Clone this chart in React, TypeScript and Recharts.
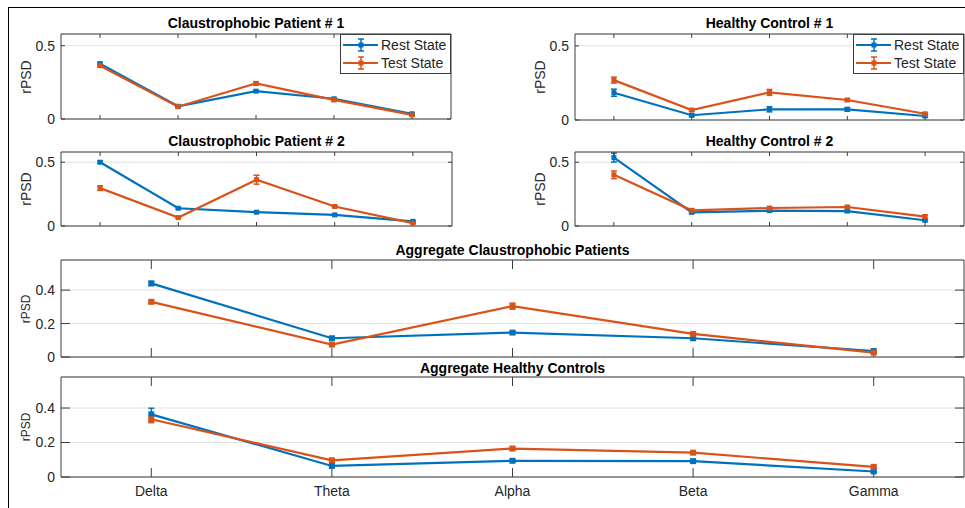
import React from 'react';
import { LineChart, Line, XAxis, YAxis, CartesianGrid, ErrorBar } from 'recharts';

const BLUE = '#0072BD';
const ORANGE = '#D95319';
const AXIS = '#3c3c3c';
const TEXT = '#262626';
const FONT = '"Liberation Sans", Arial, Helvetica, sans-serif';

const BANDS = ['Delta', 'Theta', 'Alpha', 'Beta', 'Gamma'];
const BAND_POS = [1, 2, 3, 4, 5];
const Y_TICKS_SMALL = [0, 0.5];
const Y_TICKS_AGG = [0, 0.2, 0.4];
const Y_MAX = 0.58;

// Claustrophobic Patient # 1
const cp1Rest = [0.378, 0.087, 0.19, 0.138, 0.036];
const cp1RestErr = [0.008, 0.005, 0.007, 0.006, 0.005];
const cp1Test = [0.364, 0.084, 0.243, 0.13, 0.028];
const cp1TestErr = [0.008, 0.006, 0.011, 0.006, 0.005];

// Healthy Control # 1
const hc1Rest = [0.184, 0.032, 0.072, 0.072, 0.027];
const hc1RestErr = [0.024, 0.01, 0.017, 0.012, 0.008];
const hc1Test = [0.269, 0.067, 0.186, 0.135, 0.042];
const hc1TestErr = [0.02, 0.008, 0.02, 0.008, 0.006];

// Claustrophobic Patient # 2
const cp2Rest = [0.5, 0.139, 0.108, 0.087, 0.037];
const cp2RestErr = [0.01, 0.006, 0.006, 0.006, 0.006];
const cp2Test = [0.297, 0.066, 0.363, 0.153, 0.022];
const cp2TestErr = [0.018, 0.006, 0.035, 0.008, 0.005];

// Healthy Control # 2
const hc2Rest = [0.536, 0.107, 0.12, 0.117, 0.045];
const hc2RestErr = [0.035, 0.008, 0.008, 0.008, 0.01];
const hc2Test = [0.401, 0.123, 0.141, 0.149, 0.073];
const hc2TestErr = [0.03, 0.008, 0.008, 0.008, 0.015];

// Aggregate Claustrophobic Patients
const aggCpRest = [0.44, 0.112, 0.146, 0.112, 0.036];
const aggCpRestErr = [0.012, 0.005, 0.007, 0.006, 0.004];
const aggCpTest = [0.33, 0.074, 0.304, 0.138, 0.026];
const aggCpTestErr = [0.01, 0.005, 0.018, 0.006, 0.004];

// Aggregate Healthy Controls
const aggHcRest = [0.363, 0.064, 0.094, 0.092, 0.032];
const aggHcRestErr = [0.036, 0.007, 0.007, 0.006, 0.005];
const aggHcTest = [0.335, 0.097, 0.165, 0.141, 0.059];
const aggHcTestErr = [0.02, 0.007, 0.01, 0.007, 0.006];

type PanelCfg = {
  title: string;
  rest: number[];
  restErr: number[];
  test: number[];
  testErr: number[];
  yTicks: number[];
  box: [number, number, number, number]; // plot area: left, top, width, height
  titleTop: number;
  legend?: boolean;
  xLabels?: boolean;
  agg?: boolean;
};

const PANELS: PanelCfg[] = [
  { title: 'Claustrophobic Patient # 1', rest: cp1Rest, restErr: cp1RestErr, test: cp1Test, testErr: cp1TestErr, yTicks: Y_TICKS_SMALL, box: [61, 34, 390, 85], titleTop: 15, legend: true },
  { title: 'Healthy Control # 1', rest: hc1Rest, restErr: hc1RestErr, test: hc1Test, testErr: hc1TestErr, yTicks: Y_TICKS_SMALL, box: [575, 34, 389, 86], titleTop: 15, legend: true },
  { title: 'Claustrophobic Patient # 2', rest: cp2Rest, restErr: cp2RestErr, test: cp2Test, testErr: cp2TestErr, yTicks: Y_TICKS_SMALL, box: [61, 152, 391, 74], titleTop: 133 },
  { title: 'Healthy Control # 2', rest: hc2Rest, restErr: hc2RestErr, test: hc2Test, testErr: hc2TestErr, yTicks: Y_TICKS_SMALL, box: [575, 152, 389, 74], titleTop: 133 },
  { title: 'Aggregate Claustrophobic Patients', rest: aggCpRest, restErr: aggCpRestErr, test: aggCpTest, testErr: aggCpTestErr, yTicks: Y_TICKS_AGG, box: [61, 260, 903, 97], titleTop: 242, agg: true },
  { title: 'Aggregate Healthy Controls', rest: aggHcRest, restErr: aggHcRestErr, test: aggHcTest, testErr: aggHcTestErr, yTicks: Y_TICKS_AGG, box: [61, 377, 903, 100], titleTop: 360, agg: true, xLabels: true },
];

const Empty = () => <g />;

const square = (color: string, size: number) => (props: any) => {
  const { cx, cy, index } = props;
  if (cx == null || cy == null) return <g key={`e-${index}`} />;
  return <rect key={`sq-${index}`} x={cx - size / 2} y={cy - size / 2} width={size} height={size} fill={color} />;
};

function LegendBox({ left, top }: { left: number; top: number }) {
  const rows: [string, string, number][] = [
    ['Rest State', BLUE, 11],
    ['Test State', ORANGE, 29],
  ];
  return (
    <svg style={{ position: 'absolute', left, top }} width={112} height={41}>
      <rect x={0.5} y={0.5} width={110} height={39} fill="#fff" stroke={AXIS} />
      {rows.map(([label, c, y]) => (
        <g key={label}>
          <line x1={3} x2={38} y1={y} y2={y} stroke={c} strokeWidth={2.2} />
          <line x1={21} x2={21} y1={y - 6} y2={y + 6} stroke={c} strokeWidth={1.5} />
          <line x1={18} x2={24} y1={y - 6} y2={y - 6} stroke={c} strokeWidth={1.5} />
          <line x1={18} x2={24} y1={y + 6} y2={y + 6} stroke={c} strokeWidth={1.5} />
          <rect x={18.5} y={y - 2.5} width={5} height={5} fill={c} />
          <text x={41} y={y + 5} fontSize={14} fontFamily={FONT} fill={TEXT}>
            {label}
          </text>
        </g>
      ))}
    </svg>
  );
}

function Panel({ cfg }: { cfg: PanelCfg }) {
  const [l, t, w, h] = cfg.box;
  const tl = cfg.agg ? 9 : 4;
  const marker = cfg.agg ? 6 : 5;
  const bottomH = cfg.xLabels ? 28 : 1;
  const bottomMargin = cfg.xLabels ? 2 : 10;
  const chartW = 50 + w + 1;
  const chartH = 6 + h + bottomH + bottomMargin;
  const rows = BANDS.map((b, i) => ({
    x: i + 1,
    band: b,
    rest: cfg.rest[i],
    restErr: cfg.restErr[i],
    test: cfg.test[i],
    testErr: cfg.testErr[i],
  }));
  const tickStyle = { fontSize: 14, fill: TEXT, fontFamily: FONT };

  return (
    <>
      <div
        style={{
          position: 'absolute',
          left: l,
          top: cfg.titleTop,
          width: w,
          textAlign: 'center',
          fontFamily: FONT,
          fontWeight: 'bold',
          fontSize: 14,
          lineHeight: '16px',
          color: '#000',
          whiteSpace: 'nowrap',
        }}
      >
        {cfg.title}
      </div>
      <div
        style={{
          position: 'absolute',
          left: l - 35,
          top: t + h / 2,
          transform: 'translate(-50%, -50%) rotate(-90deg)',
          fontFamily: FONT,
          fontSize: cfg.agg ? 12 : 14,
          lineHeight: 1,
          color: TEXT,
          whiteSpace: 'nowrap',
        }}
      >
        rPSD
      </div>
      <div style={{ position: 'absolute', left: l - 50, top: t - 6 }}>
        <LineChart width={chartW} height={chartH} data={rows} margin={{ top: 5, right: 0, bottom: bottomMargin, left: 0 }}>
          <CartesianGrid vertical={false} stroke="#e3e3e3" strokeWidth={1} />
          <XAxis
            xAxisId={0}
            dataKey="x"
            type="number"
            domain={[0.5, 5.5]}
            ticks={BAND_POS}
            interval={0}
            allowDataOverflow
            height={bottomH}
            tickSize={-tl}
            tickMargin={tl + 9}
            stroke={AXIS}
            tick={cfg.xLabels ? tickStyle : Empty}
            tickFormatter={(v: number) => BANDS[v - 1]}
          />
          <XAxis
            xAxisId="t"
            orientation="top"
            dataKey="x"
            type="number"
            domain={[0.5, 5.5]}
            ticks={BAND_POS}
            interval={0}
            allowDataOverflow
            height={1}
            tickSize={-tl}
            stroke={AXIS}
            tick={Empty}
          />
          <YAxis
            yAxisId={0}
            type="number"
            domain={[0, Y_MAX]}
            ticks={cfg.yTicks}
            interval={0}
            allowDataOverflow
            width={50}
            tickSize={-tl}
            tickMargin={tl + 6}
            stroke={AXIS}
            tick={tickStyle}
            tickFormatter={(v: number) => String(v)}
          />
          <YAxis
            yAxisId="r"
            orientation="right"
            type="number"
            domain={[0, Y_MAX]}
            ticks={cfg.yTicks}
            interval={0}
            allowDataOverflow
            width={1}
            tickSize={-tl}
            stroke={AXIS}
            tick={Empty}
          />
          <Line
            xAxisId={0}
            yAxisId={0}
            type="linear"
            dataKey="rest"
            stroke={BLUE}
            strokeWidth={2.2}
            dot={square(BLUE, marker)}
            activeDot={false}
            isAnimationActive={false}
          >
            <ErrorBar dataKey="restErr" width={3} stroke={BLUE} strokeWidth={1.5} isAnimationActive={false} />
          </Line>
          <Line
            xAxisId={0}
            yAxisId={0}
            type="linear"
            dataKey="test"
            stroke={ORANGE}
            strokeWidth={2.2}
            dot={square(ORANGE, marker)}
            activeDot={false}
            isAnimationActive={false}
          >
            <ErrorBar dataKey="testErr" width={3} stroke={ORANGE} strokeWidth={1.5} isAnimationActive={false} />
          </Line>
        </LineChart>
      </div>
      {cfg.legend && <LegendBox left={l + w - 111} top={t} />}
    </>
  );
}

export default function App() {
  return (
    <div
      style={{
        position: 'fixed',
        left: 0,
        top: 0,
        width: 965,
        height: 508,
        overflow: 'hidden',
        background: '#fff',
      }}
    >
      <div
        style={{
          position: 'absolute',
          left: 8,
          top: 7,
          width: 960,
          height: 505,
          borderTop: '1.5px solid #000',
          borderLeft: '1.5px solid #000',
        }}
      />
      {PANELS.map((p) => (
        <Panel key={p.title} cfg={p} />
      ))}
    </div>
  );
}
